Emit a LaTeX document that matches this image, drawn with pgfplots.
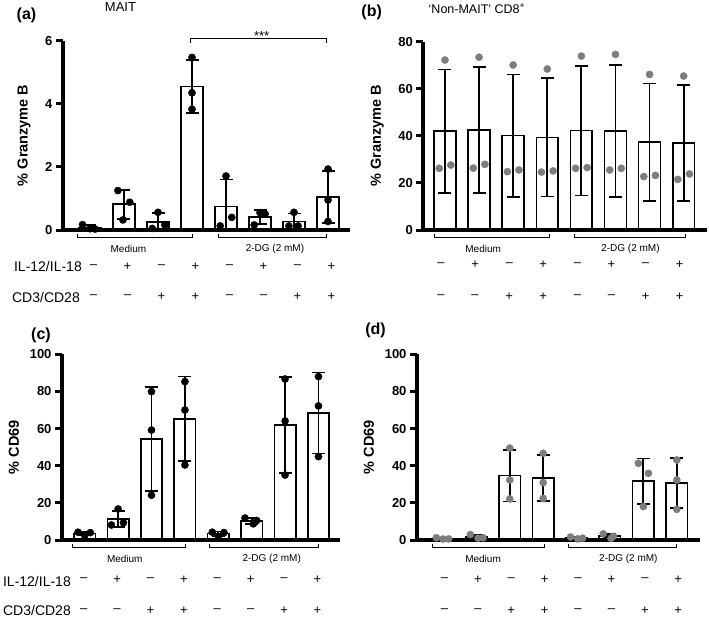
\documentclass[border=0pt]{standalone}
\usepackage{pgfplots}
\pgfplotsset{compat=1.18}
\usepackage{fontspec}
\setmainfont{Liberation Sans}
\definecolor{dotgray}{RGB}{125,125,125}

\tikzset{sg/.style={font=\fontsize{13}{15}\selectfont, inner sep=0pt}}
\pgfplotsset{
  panel/.style={
    scale only axis, axis on top, clip=false,
    axis lines=left,
    axis line style={-, line width=4pt},
    xtick=\empty,
    tick align=outside,
    major tick length=7pt,
    ytick style={line width=3pt, black},
    yticklabel style={font=\fontsize{13}{15}\selectfont\bfseries},
    /pgf/number format/assume math mode=true,
    ylabel style={font=\fontsize{14.5}{16}\selectfont\bfseries},
    ymin=0,
  },
  bars/.style={ybar, bar shift=0pt, bar width=#1, fill=white, draw=black, line width=1.6pt},
  errs/.style={draw=none, mark=none, forget plot,
     error bars/y dir=both, error bars/y explicit,
     error bars/error bar style={black, line width=1.8pt}},
  caps/.style={only marks, mark=-, mark size=6.5pt, black, forget plot, mark options={black, line width=1.8pt}},
  dots/.style={only marks, mark=*, mark size=3.6pt, color=#1, mark options={draw=#1, fill=#1}},
}

\newcommand\signrows[3]{%
 \pgfplotsinvokeforeach{0,2,4,6}{\node[sg, xshift=#1] at ([yshift=#2]axis cs:##1,0) {–};}%
 \pgfplotsinvokeforeach{1,3,5,7}{\node[sg, xshift=#1] at ([yshift=#2]axis cs:##1,0) {+};}%
 \pgfplotsinvokeforeach{0,1,4,5}{\node[sg, xshift=#1] at ([yshift=#3]axis cs:##1,0) {–};}%
 \pgfplotsinvokeforeach{2,3,6,7}{\node[sg, xshift=#1] at ([yshift=#3]axis cs:##1,0) {+};}%
}
\newcommand\groupbr[6]{%
 \draw[line width=1pt] ([yshift=-3.5pt]axis cs:#1,0) -- ([yshift=-7.8pt]axis cs:#1,0) -- ([yshift=-7.8pt]axis cs:#2,0) -- ([yshift=-3.5pt]axis cs:#2,0);
 \draw[line width=1pt] ([yshift=-3.5pt]axis cs:#3,0) -- ([yshift=-7.8pt]axis cs:#3,0) -- ([yshift=-7.8pt]axis cs:#4,0) -- ([yshift=-3.5pt]axis cs:#4,0);
 \node[font=\fontsize{10}{12}\selectfont, inner sep=0pt] at ([yshift=-18.5pt]axis cs:#5,0) {Medium};
 \node[font=\fontsize{10}{12}\selectfont, inner sep=0pt] at ([yshift=-18.5pt]axis cs:#6,0) {2-DG (2 mM)};
}

\begin{document}
\begin{tikzpicture}[x=1pt,y=1pt]
\path[use as bounding box] (0,0) rectangle (709,-618);

% ---------------- (a) MAIT Granzyme B
\begin{axis}[panel, at={(63pt,-230pt)}, anchor=south west, width=287pt, height=189.3pt,
  xmin=-0.794, xmax=7.647, ymax=6, ytick={0,2,4,6},
  ylabel={\% Granzyme B}, ylabel style={at={(axis description cs:-0.136,0.5)}, anchor=center}]
\addplot[bars=21.8pt] coordinates {(0,0.08) (1,0.82) (2,0.26) (3,4.55) (4,0.75) (5,0.41) (6,0.27) (7,1.05)};
\addplot[errs] coordinates {
 (0,0.08) += (0,0.08) -= (0,0.08)
 (1,0.82) += (0,0.46) -= (0,0.46)
 (2,0.26) += (0,0.27) -= (0,0.26)
 (3,4.55) += (0,0.84) -= (0,0.84)
 (4,0.75) += (0,0.85) -= (0,0.75)
 (5,0.41) += (0,0.22) -= (0,0.22)
 (6,0.27) += (0,0.25) -= (0,0.25)
 (7,1.05) += (0,0.83) -= (0,0.83)};
\addplot[caps] coordinates {
 (0,0.16) (1,1.28) (1,0.36) (2,0.53) (3,5.39) (3,3.71) (4,1.60)
 (5,0.63) (5,0.19) (6,0.52) (7,1.88) (7,0.22)};
\addplot[dots=black] coordinates {
 (-0.22,0.17) (0,0.04) (0.15,0.03)
 (0.82,1.25) (1.17,0.88) (0.97,0.32)
 (2.0,0.56) (1.83,0.05) (2.2,0.16)
 (3,5.47) (3,4.35) (3,3.83)
 (4,1.71) (4.17,0.40) (3.83,0.13)
 (5,0.55) (5.15,0.51) (4.83,0.16)
 (6,0.56) (5.85,0.13) (6.12,0.13)
 (7,1.93) (7,0.95) (7,0.27)};
\draw[line width=1pt] (axis cs:2.96,5.92) -- (axis cs:2.96,6.08) -- (axis cs:6.96,6.08) -- (axis cs:6.96,5.92);
\node[font=\fontsize{13}{15}\selectfont, anchor=base, inner sep=0pt] at (axis cs:5.05,6.0) {***};
\groupbr{-0.38}{3.0}{3.77}{6.96}{1.13}{5.44}
\signrows{3.4pt}{-36.5pt}{-67pt}
\end{axis}

% ---------------- (b) Non-MAIT Granzyme B
\begin{axis}[panel, at={(423.3pt,-230pt)}, anchor=south west, width=283.4pt, height=188.3pt,
  xmin=-0.636, xmax=7.675, ymax=80, ytick={0,20,40,60,80},
  ylabel={\% Granzyme B}, ylabel style={at={(axis description cs:-0.162,0.5)}, anchor=center}]
\addplot[bars=21.8pt] coordinates {(0,42.0) (1,42.53) (2,40.13) (3,39.37) (4,42.2) (5,42.1) (6,37.33) (7,36.9)};
\addplot[errs] coordinates {
 (0,42.0) +- (0,26.2)
 (1,42.53) +- (0,26.7)
 (2,40.13) +- (0,25.95)
 (3,39.37) +- (0,25.1)
 (4,42.2) +- (0,27.5)
 (5,42.1) +- (0,28.1)
 (6,37.33) +- (0,24.9)
 (7,36.9) +- (0,24.7)};
\addplot[caps] coordinates {
 (0,68.2) (0,15.8) (1,69.23) (1,15.83) (2,66.08) (2,14.18) (3,64.47) (3,14.27)
 (4,69.7) (4,14.7) (5,70.2) (5,14.0) (6,62.23) (6,12.43) (7,61.6) (7,12.2)};
\addplot[dots=dotgray] coordinates {
 (0,72.2) (-0.17,26.2) (0.17,27.6)
 (1,73.4) (0.83,26.3) (1.17,27.9)
 (2,70.1) (1.83,24.8) (2.17,25.5)
 (3,68.4) (2.83,24.6) (3.17,25.1)
 (4,73.9) (3.83,26.2) (4.17,26.5)
 (5,74.6) (4.83,25.5) (5.17,26.2)
 (6,66.1) (5.83,22.7) (6.17,23.2)
 (7,65.4) (6.83,21.5) (7.17,23.8)};
\groupbr{-0.32}{3.06}{3.8}{7.04}{1.12}{5.44}
\signrows{-4pt}{-35pt}{-67pt}
\end{axis}

% ---------------- (c) MAIT CD69
\begin{axis}[panel, at={(62pt,-540pt)}, anchor=south west, width=278pt, height=185.7pt,
  xmin=-0.68, xmax=7.644, ymax=100, ytick={0,20,40,60,80,100},
  ylabel={\% CD69}, ylabel style={at={(axis description cs:-0.173,0.5)}, anchor=center}]
\addplot[bars=21.4pt] coordinates {(0,3.53) (1,11.37) (2,54.4) (3,65.23) (4,3.4) (5,10.33) (6,61.93) (7,68.37)};
\addplot[errs] coordinates {
 (0,3.53) +- (0,0.99)
 (1,11.37) +- (0,4.4)
 (2,54.4) +- (0,28.2)
 (3,65.23) +- (0,22.8)
 (4,3.4) +- (0,1.22)
 (5,10.33) +- (0,1.56)
 (6,61.93) +- (0,25.9)
 (7,68.37) +- (0,21.8)};
\addplot[caps] coordinates {
 (0,4.52) (0,2.54) (1,15.77) (1,6.97) (2,82.6) (2,26.2) (3,88.03) (3,42.43)
 (4,4.62) (4,2.18) (5,11.89) (5,8.77) (6,87.83) (6,36.03) (7,90.17) (7,46.57)};
\addplot[dots=black] coordinates {
 (-0.2,4.2) (0,2.4) (0.17,4.0)
 (1,16.7) (0.8,8.1) (1.16,9.3)
 (2,79.9) (2,59.2) (2,24.1)
 (3,85.3) (3,70) (3,40.4)
 (3.82,4.2) (4,2.0) (4.17,4.0)
 (4.8,11.8) (5.15,10.5) (5.05,8.7)
 (6,86.7) (6,64.1) (6,35)
 (7,88) (7,72.2) (7,44.9)};
\groupbr{-0.36}{3.03}{3.75}{7.0}{1.2}{5.6}
\signrows{-1pt}{-40pt}{-71pt}
\end{axis}

% ---------------- (d) Non-MAIT CD69
\begin{axis}[panel, at={(417pt,-540pt)}, anchor=south west, width=283pt, height=185.7pt,
  xmin=-0.778, xmax=7.695, ymax=100, ytick={0,20,40,60,80,100},
  ylabel={\% CD69}, ylabel style={at={(axis description cs:-0.17,0.5)}, anchor=center}]
\addplot[bars=21.4pt] coordinates {(0,0.77) (1,1.7) (2,34.63) (3,33.33) (4,1.07) (5,2.07) (6,31.73) (7,30.63)};
\addplot[errs] coordinates {
 (0,0.77) +- (0,0.38)
 (1,1.7) +- (0,1.04)
 (2,34.63) +- (0,13.85)
 (3,33.33) +- (0,12.33)
 (4,1.07) +- (0,0.5)
 (5,2.07) +- (0,1.2)
 (6,31.73) +- (0,12.2)
 (7,30.63) +- (0,13.4)};
\addplot[caps] coordinates {
 (0,1.15) (0,0.39) (1,2.74) (1,0.66) (2,48.48) (2,20.78) (3,45.66) (3,21.0)
 (4,1.57) (4,0.57) (5,3.27) (5,0.87) (6,43.93) (6,19.53) (7,44.03) (7,17.23)};
\addplot[dots=dotgray] coordinates {
 (-0.2,1.2) (0,0.5) (0.17,0.6)
 (0.82,2.9) (1.05,1.0) (1.2,1.2)
 (2,49.5) (2,32.3) (2,22.1)
 (3,46.7) (3,30.9) (3,22.4)
 (3.82,1.6) (4.03,0.6) (4.18,1.0)
 (4.8,3.3) (5.1,2.0) (5.03,0.9)
 (5.85,41.3) (6.15,35.9) (6,18)
 (7,43.1) (7,32.3) (7,16.5)};
\groupbr{-0.32}{3.05}{3.77}{7.0}{1.2}{5.55}
\signrows{1.5pt}{-40pt}{-71pt}
\end{axis}

% ---------------- titles and row labels
\node[font=\fontsize{16}{18}\selectfont\bfseries] at (26.5,-15) {(a)};
\node[font=\fontsize{13}{15}\selectfont] at (120.5,-7.5) {MAIT};
\node[font=\fontsize{16}{18}\selectfont\bfseries] at (371.7,-12.5) {(b)};
\node[font=\fontsize{12.5}{15}\selectfont] at (477,-8.5) {‘Non-MAIT’ CD8\textsuperscript{+}};
\node[font=\fontsize{16}{18}\selectfont\bfseries] at (41,-335.5) {(c)};
\node[font=\fontsize{16}{18}\selectfont\bfseries] at (375.5,-330.5) {(d)};

\node[font=\fontsize{14}{16}\selectfont, anchor=east, inner sep=0pt] at (82,-266.5) {IL-12/IL-18};
\node[font=\fontsize{14}{16}\selectfont, anchor=east, inner sep=0pt] at (80,-297) {CD3/CD28};
\node[font=\fontsize{14}{16}\selectfont, anchor=east, inner sep=0pt] at (71,-581.5) {IL-12/IL-18};
\node[font=\fontsize{14}{16}\selectfont, anchor=east, inner sep=0pt] at (71,-610.5) {CD3/CD28};
\end{tikzpicture}
\end{document}
